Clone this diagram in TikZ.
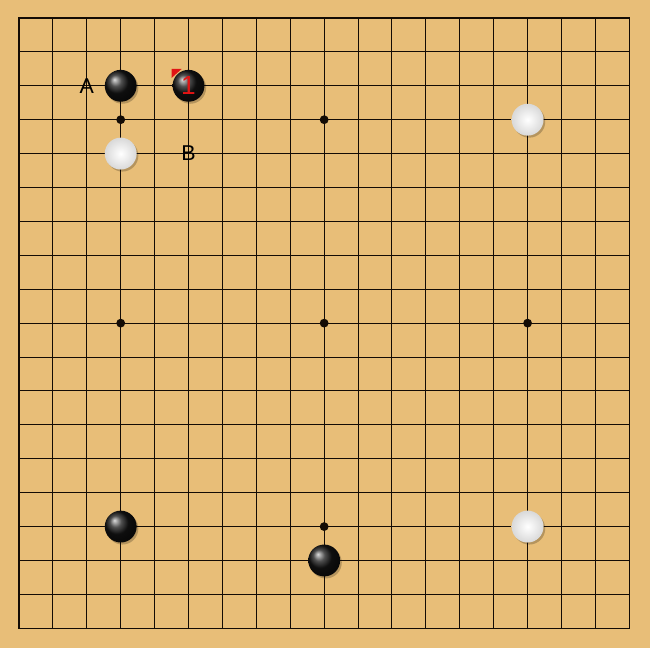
\documentclass[tikz,border=0pt]{standalone}
\usepackage{fontspec}
\setsansfont{Liberation Sans}
\usepackage{xcolor}
\usepackage{tikz}
\usetikzlibrary{calc}

\definecolor{boardwood}{RGB}{232,190,120}
\definecolor{gridline}{RGB}{20,12,5}
\definecolor{markred}{RGB}{225,20,20}

\tikzset{
	blackstone/.style={ball color=black!92, shading=ball},
	whitestone/.style={inner color=white, outer color=black!15},
	boardlabel/.style={font=\sffamily\fontsize{18}{18}\selectfont, inner sep=0pt}
}

\begin{document}
\begin{tikzpicture}[x=1cm,y=-1cm]
		\def\rs{0.47}
		\def\rh{0.13}
		% board
		\fill [boardwood] (-0.56,-0.53) rectangle (18.61,18.58);
		\useasboundingbox (-0.56,-0.53) rectangle (18.61,18.58);
		% grid
		\foreach \i in {1,...,17} {
			\draw [gridline,line width=0.85pt] (\i,0) -- (\i,18);
			\draw [gridline,line width=0.85pt] (0,\i) -- (18,\i);
		}
		\draw [gridline,line width=1.2pt] (0,0) rectangle (18,18);
		% hoshi
		\fill [gridline] (3,3) circle (\rh) (9,3) circle (\rh)
			  (3,9) circle (\rh) (9,9) circle (\rh) (15,9) circle (\rh)
			  (9,15) circle (\rh);
		% shadows
		\foreach \p in {(3,2),(5,2),(3,4),(15,3),(3,15),(15,15),(9,16)}
			\fill [black,opacity=0.22] \p ++(0.05,0.06) circle (\rs);
		% black stones
		\foreach \p in {(3,2),(5,2),(3,15),(9,16)}
			\shade [blackstone] \p circle (\rs);
		% white stones
		\foreach \p in {(3,4),(15,3),(15,15)}
			\shade [whitestone] \p circle (\rs);
		% last move mark
		\fill [markred] ($(5,2)+(-0.5,-0.5)$) -- ++(0.3,0) -- ++(-0.3,0.27) -- cycle;
		\node [font=\sffamily\fontsize{22}{22}\selectfont,inner sep=0pt,text=markred] (move1) at (5,2) {1};
		% labels
		\node [boardlabel] (lblA) at (2,2) {A};
		\node [boardlabel] (lblB) at (5,4) {B};
	\end{tikzpicture}
\end{document}
